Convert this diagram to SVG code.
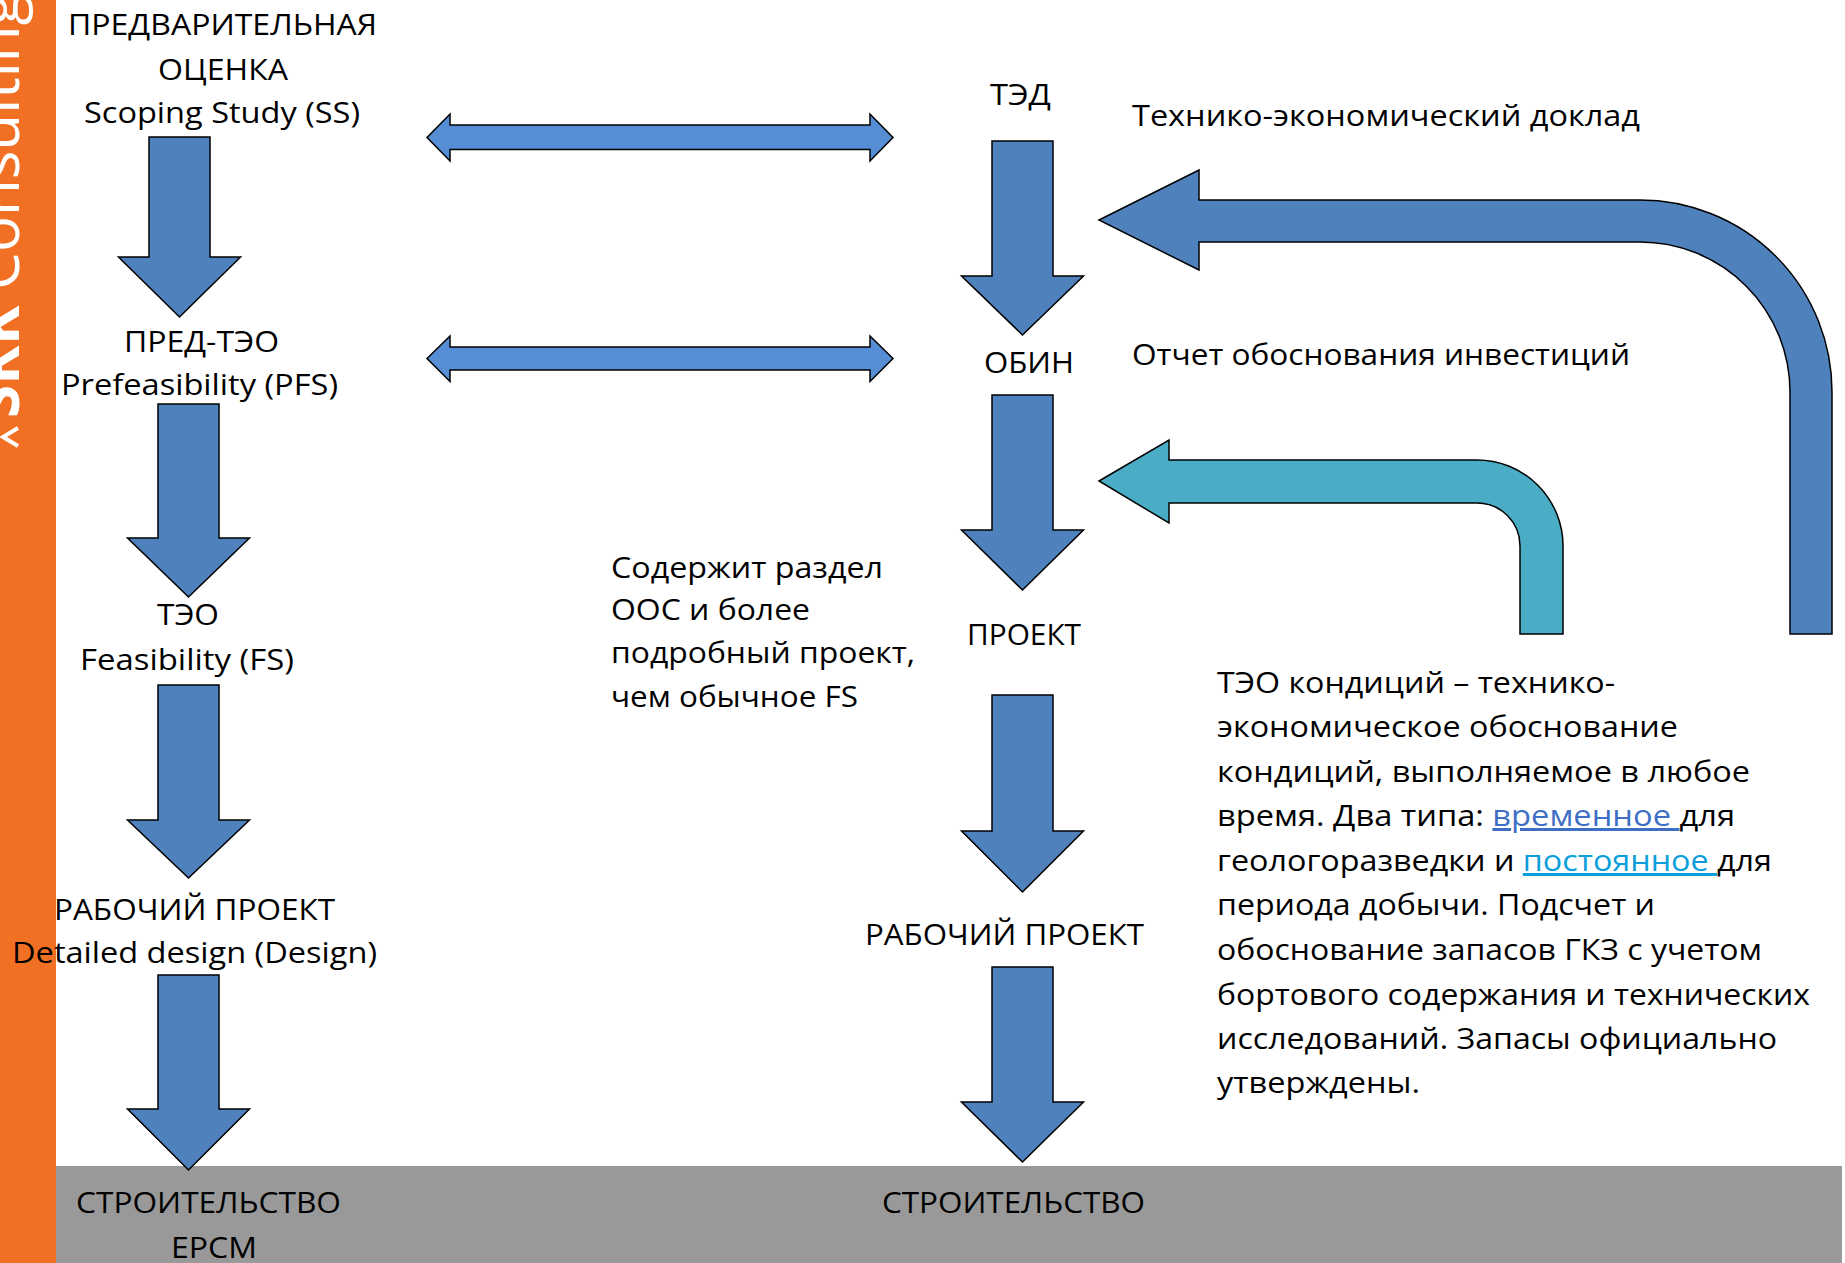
<svg xmlns="http://www.w3.org/2000/svg" width="1845" height="1263" viewBox="0 0 1845 1263">
<style>
.t{font-family:"Open Sans","Noto Sans","DejaVu Sans",sans-serif;font-size:30px;fill:#000}
.dn{fill:#4F81BD;stroke:#000;stroke-width:1.5;stroke-linejoin:miter}
.dbl{fill:#558ED5;stroke:#000;stroke-width:1.5}
.teal{fill:#4BACC6;stroke:#000;stroke-width:1.5}
.logo{font-family:"Open Sans","DejaVu Sans",sans-serif;fill:#fff}
.l1{fill:#3F6FC4;text-decoration:underline}
.l2{fill:#0A9FDC;text-decoration:underline}
</style>
<defs>
<clipPath id="barclip"><rect x="0" y="0" width="56" height="1263"/></clipPath>
</defs>
<rect width="1845" height="1263" fill="#fff"/>
<g id="sidebar">
<rect x="0" y="0" width="56" height="1263" fill="#F27024"/>
<g clip-path="url(#barclip)">
<text class="logo" transform="translate(19,418) rotate(-90)" font-size="60"><tspan font-weight="bold">SRK</tspan> Consulting</text>
<polyline points="18,428 3,437 18,446" fill="none" stroke="#fff" stroke-width="4"/>
</g>
</g>
<g id="baseband"><rect x="56" y="1166" width="1786" height="97" fill="#999999"/></g>

<g id="connectors">
<polygon class="dn" points="149,137 210,137 210,257 240.5,257 179.5,317 118.5,257 149,257"/>
<polygon class="dn" points="158,404 219,404 219,538 249.5,538 188.5,597 127.5,538 158,538"/>
<polygon class="dn" points="158,685 219,685 219,820 249.5,820 188.5,878 127.5,820 158,820"/>
<polygon class="dn" points="158,975 219,975 219,1109 249.5,1109 188.5,1170 127.5,1109 158,1109"/>
<polygon class="dn" points="992,141 1053,141 1053,276 1083.5,276 1022.5,335 961.5,276 992,276"/>
<polygon class="dn" points="992,395 1053,395 1053,530 1083.5,530 1022.5,590 961.5,530 992,530"/>
<polygon class="dn" points="992,695 1053,695 1053,831 1083.5,831 1022.5,892 961.5,831 992,831"/>
<polygon class="dn" points="992,967 1053,967 1053,1102 1083.5,1102 1022.5,1162 961.5,1102 992,1102"/>
<polygon class="dbl" points="427,137.5 450,114 450,125 870,125 870,114 893,137.5 870,161 870,149.5 450,149.5 450,161"/>
<polygon class="dbl" points="427,358.5 450,336 450,347 870,347 870,336 893,358.5 870,381.5 870,370 450,370 450,381.5"/>
<path class="dn" d="M1099,220 L1199,170 L1199,200 L1640,200 A192,192 0 0 1 1832,392 L1832,634 L1790,634 L1790,392 A150,150 0 0 0 1640,242 L1199,242 L1199,270 Z"/>
<path class="teal" d="M1099,481 L1169,440 L1169,460 L1477,460 A86,86 0 0 1 1563,546 L1563,634 L1520,634 L1520,546 A43,43 0 0 0 1477,503 L1169,503 L1169,523 Z"/>
</g>

<g id="ss">
<text class="t" x="68" y="35" textLength="309" lengthAdjust="spacingAndGlyphs">ПРЕДВАРИТЕЛЬНАЯ</text>
<text class="t" x="158" y="80" textLength="130" lengthAdjust="spacingAndGlyphs">ОЦЕНКА</text>
<text class="t" x="84" y="123" textLength="276" lengthAdjust="spacingAndGlyphs">Scoping Study (SS)</text>
</g>
<g id="pfs">
<text class="t" x="124" y="352" textLength="155" lengthAdjust="spacingAndGlyphs">ПРЕД-ТЭО</text>
<text class="t" x="61" y="395" textLength="277" lengthAdjust="spacingAndGlyphs">Prefeasibility (PFS)</text>
</g>
<g id="fs">
<text class="t" x="157" y="625" textLength="62" lengthAdjust="spacingAndGlyphs">ТЭО</text>
<text class="t" x="80" y="670" textLength="214" lengthAdjust="spacingAndGlyphs">Feasibility (FS)</text>
</g>
<g id="design-left">
<text class="t" x="54" y="920" textLength="281" lengthAdjust="spacingAndGlyphs">РАБОЧИЙ ПРОЕКТ</text>
<text class="t" x="12" y="963" textLength="365" lengthAdjust="spacingAndGlyphs">Detailed design (Design)</text>
</g>
<g id="build-left">
<text class="t" x="76" y="1213" textLength="265" lengthAdjust="spacingAndGlyphs">СТРОИТЕЛЬСТВО</text>
<text class="t" x="171" y="1258" textLength="86" lengthAdjust="spacingAndGlyphs">EPCM</text>
</g>

<g id="ted">
<text class="t" x="990" y="105" textLength="61" lengthAdjust="spacingAndGlyphs">ТЭД</text>
</g>
<g id="ted-note">
<text class="t" x="1132" y="126" textLength="508" lengthAdjust="spacingAndGlyphs">Технико-экономический доклад</text>
</g>
<g id="obin">
<text class="t" x="984" y="373" textLength="90" lengthAdjust="spacingAndGlyphs">ОБИН</text>
</g>
<g id="obin-note">
<text class="t" x="1132" y="365" textLength="498" lengthAdjust="spacingAndGlyphs">Отчет обоснования инвестиций</text>
</g>
<g id="proekt">
<text class="t" x="967" y="645" textLength="114" lengthAdjust="spacingAndGlyphs">ПРОЕКТ</text>
</g>
<g id="design-right">
<text class="t" x="865" y="945" textLength="279" lengthAdjust="spacingAndGlyphs">РАБОЧИЙ ПРОЕКТ</text>
</g>
<g id="build-right">
<text class="t" x="882" y="1213" textLength="263" lengthAdjust="spacingAndGlyphs">СТРОИТЕЛЬСТВО</text>
</g>

<g id="proekt-note">
<text class="t" x="611" y="578" textLength="272" lengthAdjust="spacingAndGlyphs">Содержит раздел</text>
<text class="t" x="611" y="620" textLength="199" lengthAdjust="spacingAndGlyphs">ООС и более</text>
<text class="t" x="611" y="663" textLength="304" lengthAdjust="spacingAndGlyphs">подробный проект,</text>
<text class="t" x="611" y="707" textLength="247" lengthAdjust="spacingAndGlyphs">чем обычное FS</text>
</g>

<g id="teo-note">
<text class="t" x="1217" y="693" textLength="398" lengthAdjust="spacingAndGlyphs">ТЭО кондиций – технико-</text>
<text class="t" x="1217" y="737" textLength="461" lengthAdjust="spacingAndGlyphs">экономическое обоснование</text>
<text class="t" x="1217" y="782" textLength="533" lengthAdjust="spacingAndGlyphs">кондиций, выполняемое в любое</text>
<text class="t" x="1217" y="826" textLength="518" lengthAdjust="spacingAndGlyphs">время. Два типа: <tspan class="l1">временное </tspan>для</text>
<text class="t" x="1217" y="871" textLength="555" lengthAdjust="spacingAndGlyphs">геологоразведки и <tspan class="l2">постоянное </tspan>для</text>
<text class="t" x="1217" y="915" textLength="438" lengthAdjust="spacingAndGlyphs">периода добычи. Подсчет и</text>
<text class="t" x="1217" y="960" textLength="545" lengthAdjust="spacingAndGlyphs">обоснование запасов ГКЗ с учетом</text>
<text class="t" x="1217" y="1005" textLength="593" lengthAdjust="spacingAndGlyphs">бортового содержания и технических</text>
<text class="t" x="1217" y="1049" textLength="560" lengthAdjust="spacingAndGlyphs">исследований. Запасы официально</text>
<text class="t" x="1217" y="1093" textLength="203" lengthAdjust="spacingAndGlyphs">утверждены.</text>
</g>
</svg>
